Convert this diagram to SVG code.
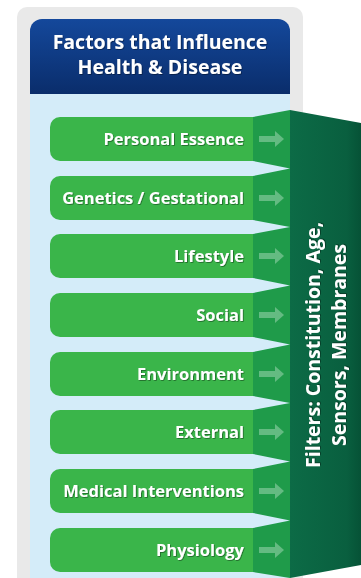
<svg xmlns="http://www.w3.org/2000/svg" width="361" height="578" viewBox="0 0 361 578">
<defs>
<linearGradient id="hdr" x1="0" y1="0" x2="0" y2="1"><stop offset="0" stop-color="#14489b"/><stop offset="1" stop-color="#0a2d6b"/></linearGradient>
<linearGradient id="dark" x1="0" y1="0" x2="1" y2="0"><stop offset="0" stop-color="#0c6b46"/><stop offset="0.8" stop-color="#095f3f"/><stop offset="1" stop-color="#065236"/></linearGradient>
<filter id="sh" x="-10%" y="-30%" width="120%" height="160%"><feDropShadow dx="0.8" dy="0.8" stdDeviation="0.7" flood-color="#000" flood-opacity="0.45"/></filter>
<path id="arr" d="M0,-3 H16 V-8 L25,0 L16,8 V3 H0 Z"/>
</defs>
<style>
.bar{fill:#3ab54a}
.lbl{font-family:"Open Sans","Liberation Sans",sans-serif;font-weight:700;font-size:16.5px;fill:#fff;text-anchor:end;filter:url(#sh)}
.ttl{font-family:"Open Sans","Liberation Sans",sans-serif;font-weight:700;font-size:19.5px;fill:#fff;text-anchor:middle;filter:url(#sh)}
.wedge{fill:#d4ecf9}
.arrow{fill:#64bb82}
</style>
<rect x="17" y="7" width="286" height="600" rx="10" fill="#e9e9e9"/>
<rect x="30" y="90" width="260" height="500" fill="#d4ecf9"/>
<g id="header">
<path d="M30,94 V31 a12,12 0 0 1 12,-12 H278 a12,12 0 0 1 12,12 V94 Z" fill="url(#hdr)"/>
<text class="ttl" x="160" y="48.5">Factors that Influence</text>
<text class="ttl" x="160" y="74">Health &amp; Disease</text>
</g>
<g id="filters">
<polygon points="253,117 290,110 290,578 253,572" fill="#1f9b4a"/>
<polygon points="290,110 361,123 361,565 290,578" fill="url(#dark)"/>
<g class="wedge">
<polygon points="253,161 290,168.5 253,176"/>
<polygon points="253,220 290,227 253,234"/>
<polygon points="253,278 290,285.5 253,293"/>
<polygon points="253,337 290,344.5 253,352"/>
<polygon points="253,396 290,403 253,410"/>
<polygon points="253,454 290,461.5 253,469"/>
<polygon points="253,513 290,520.5 253,528"/>
</g>
<text class="ttl" transform="translate(320,345) rotate(-90)">Filters: Constitution, Age,</text>
<text class="ttl" transform="translate(346,345) rotate(-90)">Sensors, Membranes</text>
</g>
<g id="personal-essence"><path class="bar" d="M253,117 H60 a10,10 0 0 0 -10,10 V151 a10,10 0 0 0 10,10 H253 Z"/><text class="lbl" x="244" y="144.5">Personal Essence</text></g>
<g id="genetics"><path class="bar" d="M253,176 H60 a10,10 0 0 0 -10,10 V210 a10,10 0 0 0 10,10 H253 Z"/><text class="lbl" x="244" y="203.5">Genetics / Gestational</text></g>
<g id="lifestyle"><path class="bar" d="M253,234 H60 a10,10 0 0 0 -10,10 V268 a10,10 0 0 0 10,10 H253 Z"/><text class="lbl" x="244" y="261.5">Lifestyle</text></g>
<g id="social"><path class="bar" d="M253,293 H60 a10,10 0 0 0 -10,10 V327 a10,10 0 0 0 10,10 H253 Z"/><text class="lbl" x="244" y="320.5">Social</text></g>
<g id="environment"><path class="bar" d="M253,352 H60 a10,10 0 0 0 -10,10 V386 a10,10 0 0 0 10,10 H253 Z"/><text class="lbl" x="244" y="379.5">Environment</text></g>
<g id="external"><path class="bar" d="M253,410 H60 a10,10 0 0 0 -10,10 V444 a10,10 0 0 0 10,10 H253 Z"/><text class="lbl" x="244" y="437.5">External</text></g>
<g id="medical"><path class="bar" d="M253,469 H60 a10,10 0 0 0 -10,10 V503 a10,10 0 0 0 10,10 H253 Z"/><text class="lbl" x="244" y="496.5">Medical Interventions</text></g>
<g id="physiology"><path class="bar" d="M253,528 H60 a10,10 0 0 0 -10,10 V562 a10,10 0 0 0 10,10 H253 Z"/><text class="lbl" x="244" y="555.5">Physiology</text></g>
<g id="connectors" class="arrow">
<use href="#arr" x="259" y="139"/>
<use href="#arr" x="259" y="198"/>
<use href="#arr" x="259" y="256"/>
<use href="#arr" x="259" y="315"/>
<use href="#arr" x="259" y="374"/>
<use href="#arr" x="259" y="432"/>
<use href="#arr" x="259" y="491"/>
<use href="#arr" x="259" y="550"/>
</g>
</svg>
